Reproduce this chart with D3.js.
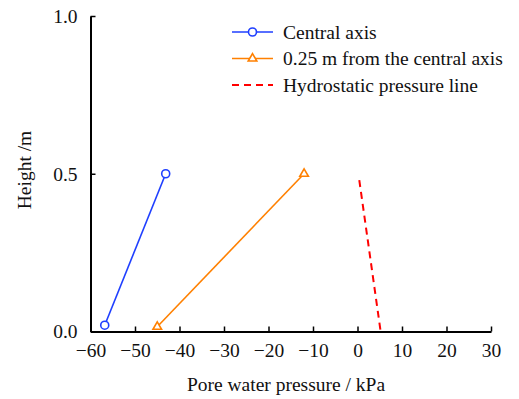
<!DOCTYPE html>
<html>
<head>
<meta charset="utf-8">
<script src="https://cdn.jsdelivr.net/npm/d3@7"></script>
<style>
body { margin: 0; background: #fff; }
svg { font-family: "Liberation Serif", "Times New Roman", serif; }
</style>
</head>
<body>
<svg id="chart" width="519" height="399"></svg>
<script>
var seriesNames = ['Central axis', '0.25 m from the central axis', 'Hydrostatic pressure line'];
var centralPressure = [-56.8, -43.1];
var centralHeight = [0.02, 0.5];
var offsetPressure = [-45.0, -12.0];
var offsetHeight = [0.015, 0.5];
var hydroPressure = [0.4, 5.2];
var hydroHeight = [0.48, 0];
var xTicks = [-60, -50, -40, -30, -20, -10, 0, 10, 20, 30];
var yTicks = [0, 0.5, 1.0];

var FONT = '19.5px';
var MARGIN = { LEFT: 90.5, RIGHT: 28, TOP: 16, BOTTOM: 67.5 };
var width = 519 - MARGIN.LEFT - MARGIN.RIGHT,
    height = 399 - MARGIN.TOP - MARGIN.BOTTOM;

var xScale = d3.scaleLinear().domain([-60, 30]).range([0, width]);
var yScale = d3.scaleLinear().domain([0, 1]).range([height, 0]);

var svg = d3.select('#chart');
var g = svg.append('g')
    .attr('transform', 'translate(' + MARGIN.LEFT + ',' + MARGIN.TOP + ')');

var xAxis = d3.axisBottom(xScale)
    .tickValues(xTicks)
    .tickFormat(d3.format('d'))
    .tickSizeInner(-5)
    .tickSizeOuter(0)
    .tickPadding(12);
var yAxis = d3.axisLeft(yScale)
    .tickValues(yTicks)
    .tickFormat(d3.format('.1f'))
    .tickSizeInner(-5)
    .tickSizeOuter(0)
    .tickPadding(13);

var gx = g.append('g')
    .attr('transform', 'translate(0,' + height + ')')
    .call(xAxis);
var gy = g.append('g').call(yAxis);

[gx, gy].forEach(function (a) {
    a.select('.domain').attr('stroke', '#000').attr('stroke-width', 2);
    a.selectAll('.tick line').attr('stroke', '#000').attr('stroke-width', 1.5);
    a.selectAll('.tick text')
        .attr('fill', '#111')
        .style('font-family', '"Liberation Serif", serif')
        .style('font-size', FONT);
});

var line = d3.line()
    .x(function (d) { return xScale(d[0]); })
    .y(function (d) { return yScale(d[1]); });

var central = d3.zip(centralPressure, centralHeight);
var offset = d3.zip(offsetPressure, offsetHeight);
var hydro = d3.zip(hydroPressure, hydroHeight);

var plot = g.append('g');
plot.append('path').datum(hydro)
    .attr('d', line)
    .attr('fill', 'none')
    .attr('stroke', '#ff0000')
    .attr('stroke-width', 2)
    .attr('stroke-dasharray', '7,5');

plot.append('path').datum(central)
    .attr('d', line)
    .attr('fill', 'none')
    .attr('stroke', '#1f3fff')
    .attr('stroke-width', 1.6);
plot.selectAll('.circ').data(central).enter()
    .append('circle')
    .attr('cx', function (d) { return xScale(d[0]); })
    .attr('cy', function (d) { return yScale(d[1]); })
    .attr('r', 4)
    .attr('fill', '#fff')
    .attr('stroke', '#1f3fff')
    .attr('stroke-width', 1.6);

plot.append('path').datum(offset)
    .attr('d', line)
    .attr('fill', 'none')
    .attr('stroke', '#ff8000')
    .attr('stroke-width', 1.6);
var tri = d3.symbol().type(d3.symbolTriangle).size(32);
plot.selectAll('.tri').data(offset).enter()
    .append('path')
    .attr('d', tri)
    .attr('transform', function (d) { return 'translate(' + xScale(d[0]) + ',' + yScale(d[1]) + ')'; })
    .attr('fill', '#fff')
    .attr('stroke', '#ff8000')
    .attr('stroke-width', 1.6);

// axis titles
svg.append('text')
    .attr('x', 286)
    .attr('y', 391)
    .attr('text-anchor', 'middle')
    .style('font-size', FONT)
    .attr('fill', '#111')
    .text('Pore water pressure / kPa');
svg.append('text')
    .attr('transform', 'translate(31,' + 170 + ') rotate(-90)')
    .attr('text-anchor', 'middle')
    .style('font-size', FONT)
    .attr('fill', '#111')
    .text('Height /m');

// legend
var legend = svg.append('g').attr('transform', 'translate(232,32)');
var rows = legend.selectAll('g').data(seriesNames).enter()
    .append('g')
    .attr('transform', function (d, i) { return 'translate(0,' + i * 26.5 + ')'; });
rows.append('line')
    .attr('x1', 0).attr('x2', 41)
    .attr('stroke', function (d, i) { return ['#1f3fff', '#ff8000', '#ff0000'][i]; })
    .attr('stroke-width', function (d, i) { return i === 2 ? 2 : 1.6; })
    .attr('stroke-dasharray', function (d, i) { return i === 2 ? '7,5' : null; });
rows.filter(function (d, i) { return i === 0; })
    .append('circle')
    .attr('cx', 20.5).attr('r', 4)
    .attr('fill', '#fff').attr('stroke', '#1f3fff').attr('stroke-width', 1.6);
rows.filter(function (d, i) { return i === 1; })
    .append('path')
    .attr('d', tri)
    .attr('transform', 'translate(20.5,0)')
    .attr('fill', '#fff').attr('stroke', '#ff8000').attr('stroke-width', 1.6);
rows.append('text')
    .attr('x', 51)
    .attr('dy', '0.35em')
    .style('font-size', FONT)
    .attr('fill', '#111')
    .text(function (d) { return d; });
</script>
</body>
</html>
